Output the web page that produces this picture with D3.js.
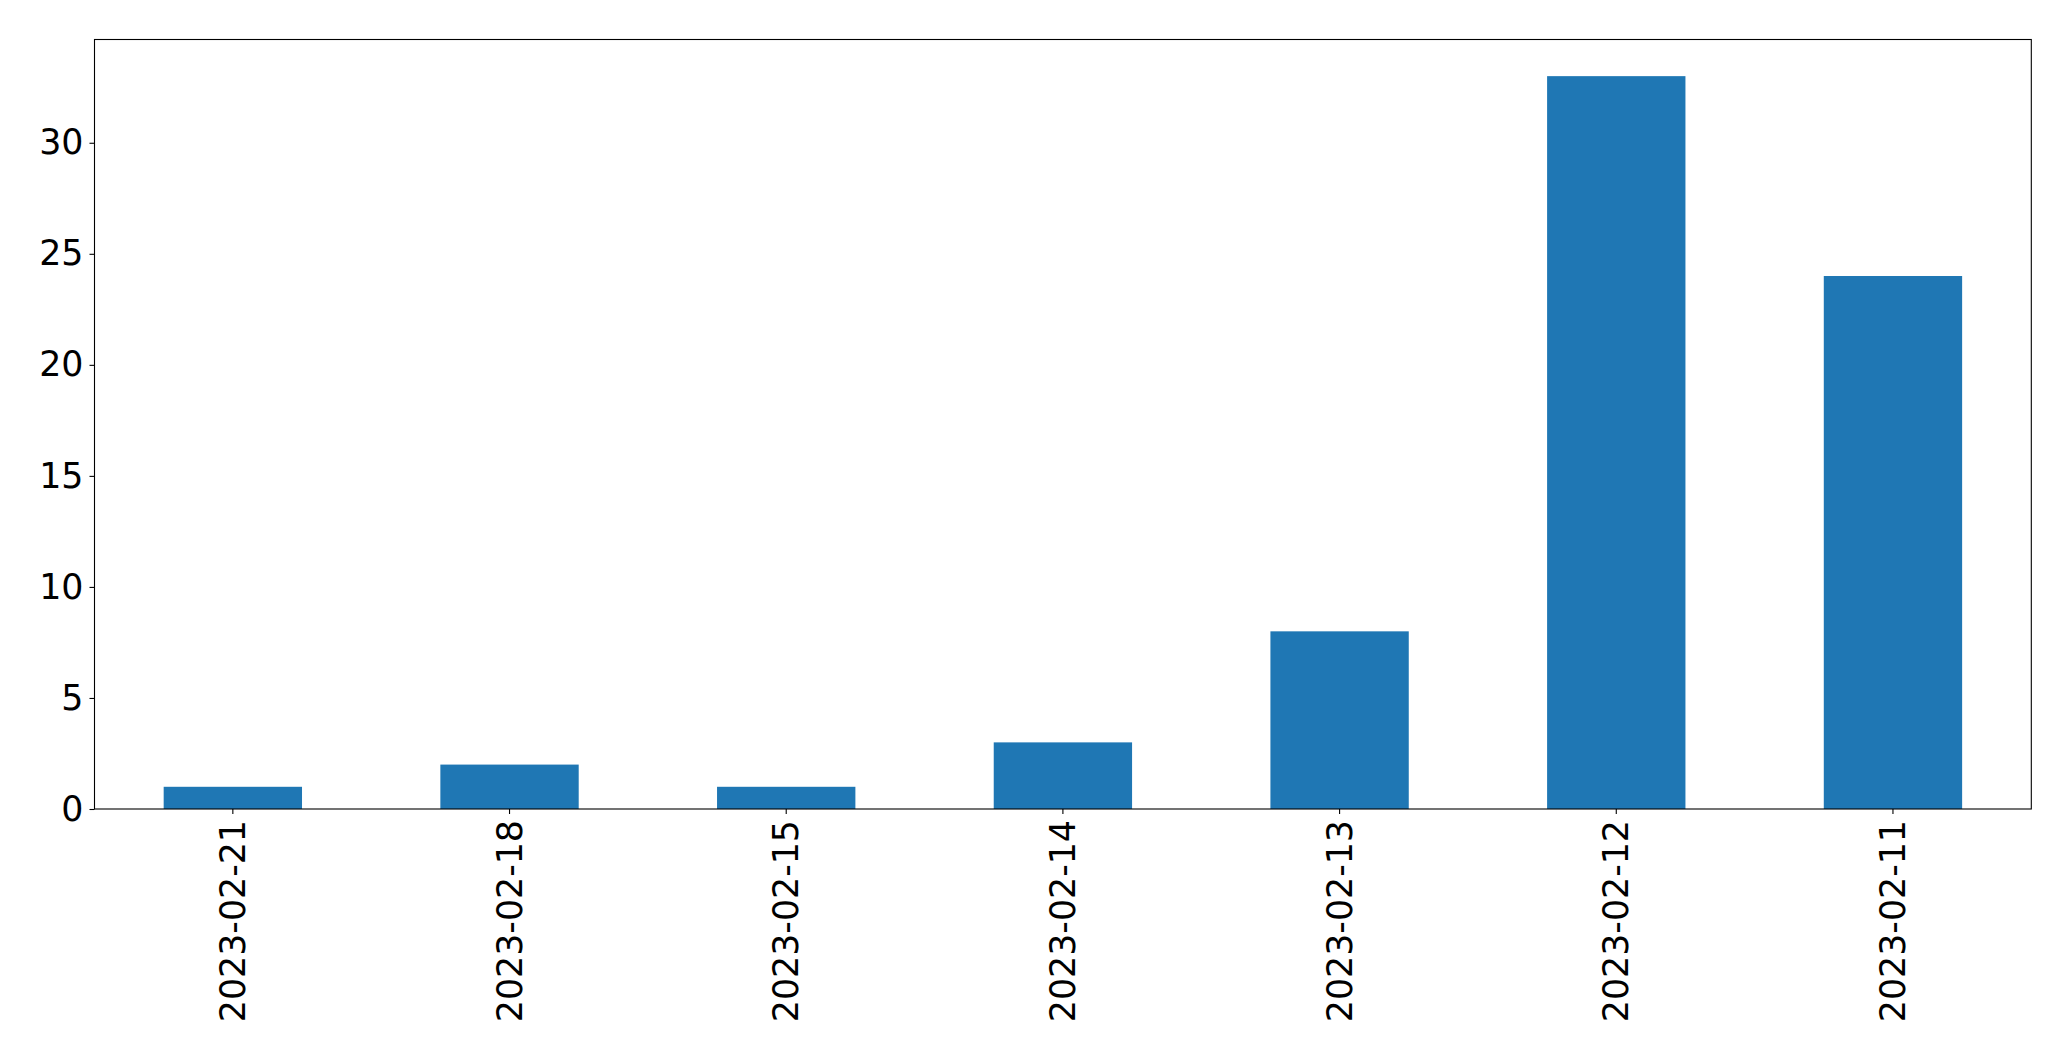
<!DOCTYPE html>
<html>
<head>
<meta charset="utf-8">
<script src="https://cdn.jsdelivr.net/npm/d3@7"></script>
<style>
  html, body { margin: 0; padding: 0; background: #fff; }
  svg { display: block; }
  text { font-family: "DejaVu Sans", sans-serif; }
</style>
</head>
<body>
<svg id="chart" width="2071" height="1061"></svg>
<script>
const categories = ["2023-02-21", "2023-02-18", "2023-02-15", "2023-02-14", "2023-02-13", "2023-02-12", "2023-02-11"];
const values = [1, 2, 1, 3, 8, 33, 24];
const yTicks = [0, 5, 10, 15, 20, 25, 30];

const W = 2071, H = 1061;
const margin = { left: 94.5, right: W - 2031.3, top: 39.5, bottom: H - 809 };
const svg = d3.select("#chart");
const iw = W - margin.left - margin.right;
const ih = H - margin.top - margin.bottom;
const g = svg.append("g").attr("transform", `translate(${margin.left},${margin.top})`);

const x = d3.scaleBand().domain(categories).range([0, iw]).paddingInner(0.5).paddingOuter(0.25);
const y = d3.scaleLinear().domain([0, d3.max(values) * 1.05]).range([ih, 0]);

g.selectAll("rect.bar").data(values).join("rect")
  .attr("class", "bar")
  .attr("x", (d, i) => x(categories[i]))
  .attr("width", x.bandwidth())
  .attr("y", d => y(d))
  .attr("height", d => y(0) - y(d))
  .attr("fill", "#1f77b4");

const fs = 34.8;
const yAxis = g.append("g").call(d3.axisLeft(y).tickValues(yTicks).tickFormat(d3.format("d")).tickSize(5).tickPadding(6));
yAxis.select(".domain").remove();
yAxis.selectAll("text").attr("font-size", fs).attr("font-family", "DejaVu Sans").attr("fill", "#000");
yAxis.selectAll("line").attr("stroke", "#000").attr("stroke-width", 1.1);

const xAxis = g.append("g").attr("transform", `translate(0,${ih})`)
  .call(d3.axisBottom(x).tickSize(5).tickPadding(6));
xAxis.select(".domain").remove();
xAxis.selectAll("line").attr("stroke", "#000").attr("stroke-width", 1.1);
xAxis.selectAll("text")
  .attr("font-size", fs).attr("font-family", "DejaVu Sans").attr("fill", "#000")
  .attr("transform", "rotate(-90)")
  .attr("text-anchor", "end")
  .attr("x", -11)
  .attr("y", 0)
  .attr("dy", "0.35em");

g.append("rect").attr("x", 0).attr("y", 0).attr("width", iw).attr("height", ih)
  .attr("fill", "none").attr("stroke", "#000").attr("stroke-width", 1.1);
</script>
</body>
</html>
